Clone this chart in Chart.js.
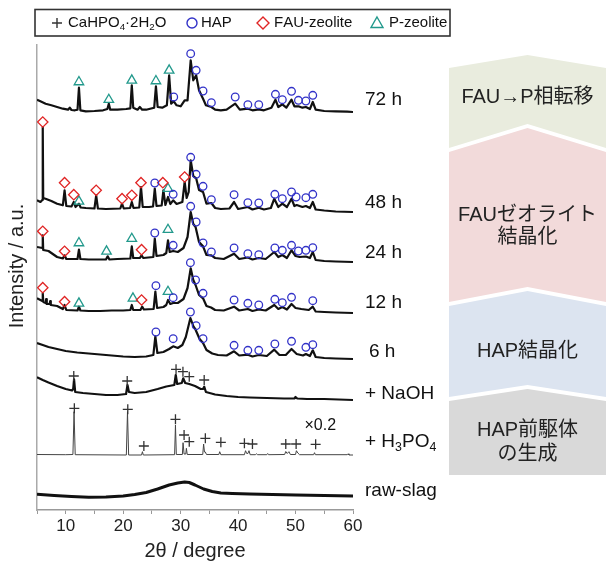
<!DOCTYPE html>
<html>
<head>
<meta charset="utf-8">
<script src="https://cdn.jsdelivr.net/npm/chart.js@4.4.1/dist/chart.umd.min.js"></script>
<style>
html, body { margin: 0; padding: 0; background: #fff; }
</style>
</head>
<body>
<canvas id="xrdChart" width="606" height="561"></canvas>
<script>
// 2θ ticks shown on the x axis
const xTickLabels = [10, 20, 30, 40, 50, 60];

// sample names, top to bottom ('_' = next char subscript)
const traceNames = ['72 h', '48 h', '24 h', '12 h', '6 h', '+ NaOH', '+ H_3PO_4', 'raw-slag'];
// vertical stacking offset of every pattern (a.u.)
const traceOffsets = [398, 298, 248, 197, 151, 110, 55, 14];

// patterns: [2θ, intensity above own baseline]
const trace72h = [[5,12.3],[5.5,11],[6.5,8.3],[7.5,6.7],[8.5,5],[9.5,3.3],[10.4,2.3],[10.7,4.3],[11,2],[11.6,1.7],[12.05,2.3],[12.3,24.3],[12.55,1.7],[13.5,0.7],[15,1],[16.5,1.7],[17.25,3],[17.5,8.3],[17.75,2.3],[19,2.3],[20.5,3],[21.25,3.7],[21.5,26.7],[21.75,4.3],[22.5,2.3],[22.9,5],[23.3,2.3],[24,2.3],[25.4,4.3],[25.7,25.7],[26,5],[26.8,4.3],[27.6,6.7],[28,36.7],[28.35,8.3],[28.8,10.7],[29.3,6.7],[30,5.7],[30.7,11.7],[31.2,11.7],[31.75,51.7],[32.2,31.7],[32.7,36.7],[33.2,21.7],[33.9,13.3],[34.4,6.7],[35.35,5],[36,2.3],[37,1.7],[38,2.3],[39.5,8.3],[40.3,2.3],[41.7,3.3],[42.5,1.7],[43.6,2.7],[44.5,1.7],[45.8,4.3],[46.5,12.3],[47,5],[47.7,7.7],[48.4,4.3],[49.3,12.3],[49.8,5.7],[50.5,5.7],[51.2,4.3],[51.8,5],[52.5,3],[53,10],[53.5,2.3],[55,1],[57,0.7],[59,0.3],[60,0]];
const trace48h = [[5,11.7],[5.6,10],[5.92,12],[6,84.7],[6.08,14],[6.6,13],[7.5,11],[8.5,8.3],[9.5,6.7],[9.8,21.7],[10.1,6],[11,5.5],[11.4,10],[11.7,5],[12.3,8.3],[12.6,4.5],[13.5,4],[15,3.5],[15.3,16.7],[15.6,3.5],[17,3],[19.5,3.5],[19.8,8.3],[20.1,3.5],[21.2,4],[21.5,10],[21.8,4],[22.8,4.5],[23.1,25],[23.4,5],[24.5,5],[25.2,5.5],[25.5,23.3],[25.8,6],[26.7,6.5],[27,21.7],[27.35,7],[27.8,15],[28.2,8],[28.7,11.7],[29.3,8],[30.3,10],[30.7,30],[31.05,14],[31.4,20],[31.75,51.7],[32.2,36],[32.7,33.7],[33.2,22],[33.9,20],[34.5,8.3],[35.35,9],[36,4],[37,3],[38.5,3.5],[39.3,10],[40,3],[41.7,5],[42.5,2.5],[43.6,4.3],[44.5,2.5],[45.7,4],[46.3,13.3],[47,5],[47.7,8.3],[48.5,5],[49.3,13.3],[49.8,6],[50.2,7],[51.2,5],[51.8,6],[52.5,4],[53,10],[53.5,2.5],[55,1.5],[57,0.5],[60,0]];
const trace24h = [[5,15],[5.92,14],[6,26.7],[6.08,12],[7,11],[8.5,5],[9.5,3.5],[9.8,6.7],[10.1,3],[12.05,3],[12.3,12.3],[12.55,3],[14,2.5],[17,2.5],[17.3,5.7],[17.6,2.5],[19,3],[21.25,3.5],[21.5,15.7],[21.75,4],[22.9,4],[23.2,6.7],[23.5,4],[25.25,5],[25.5,23.3],[25.8,6],[27,7],[27.5,9],[27.8,21.7],[28.1,10],[28.7,11],[29.5,10],[30.5,14],[31.2,25],[31.75,50],[32.2,38],[32.6,35],[33.2,20],[33.9,15.7],[34.5,7],[35.35,6.7],[36,4],[37.5,3],[39.3,8.3],[40.2,3],[41.7,4.5],[42.5,2.5],[43.6,4],[44.8,3],[46.3,10],[47,5],[47.7,7],[48.5,4],[49.3,11.7],[50,6],[50.7,5],[51.8,5.5],[52.5,4],[53,10],[53.5,2],[55,1],[57,0.5],[60,0]];
const trace12h = [[5,14.7],[5.92,12],[6,19.7],[6.1,11],[6.5,10],[6.6,14],[6.7,9],[7.2,9],[7.3,12],[7.4,8],[8.5,7],[9.5,4],[9.8,8],[10.1,3],[12.05,2.5],[12.3,6.3],[12.55,2.5],[14,2],[16,2],[18,2.5],[20,2.5],[21.25,3],[21.5,8],[21.75,3],[23,3],[23.3,6.3],[23.6,3.5],[25.3,4],[25.6,21.3],[25.9,5],[27,6],[27.5,8],[27.8,13],[28.2,9],[28.7,10],[29.5,10],[30.5,14],[31.2,25],[31.75,44.7],[32.2,33],[32.6,28],[33.2,18],[33.9,14.7],[34.5,7],[35.3,5.5],[36,3],[37.5,2.5],[39.3,6.3],[40.2,2.5],[41.7,4],[42.5,2],[43.6,3.5],[44.8,2.5],[46.3,8],[47,4],[47.7,6],[48.5,3.5],[49.3,9],[50,5],[51,4],[52.3,3],[53,6.3],[53.5,1.5],[55,1],[57,0.5],[60,0]];
const trace6h = [[5,16],[6,14],[7,12],[8.5,10],[10,8],[12,6.5],[14,5.5],[16,4.5],[18,3.5],[20,2.5],[22,2],[24,2.5],[25.25,4],[25.6,22.7],[25.95,6],[27,7],[28,10],[28.7,12.7],[29.5,11],[30.3,14],[30.9,22],[31.7,41],[32.2,33],[32.6,29.3],[33.3,20],[33.9,16],[34.5,9],[35.5,5.5],[36.5,4],[38,3.5],[39.3,7.7],[40.2,3.5],[41.7,4.3],[42.5,2.5],[43.6,4],[45,3],[46.3,9.3],[47.2,4],[48.3,4],[49.3,10],[50.2,5],[51.3,3.5],[51.8,5],[52.5,3],[53,8.7],[53.5,2],[55,1],[57,0.5],[60,0]];
const traceNaOH = [[5,22.7],[6,20],[7,17.5],[8.5,14],[10,11],[11.1,9.5],[11.3,11],[11.45,20.7],[11.65,8],[13,7],[15,6],[17,5],[19,5],[20.5,6],[20.75,15],[21,8],[22,7],[24,8],[26,11],[27.5,13.5],[28.9,15],[29.15,25],[29.4,16],[30.2,17],[30.45,21.7],[30.8,17],[31.5,16],[32.5,14],[33.5,11],[33.9,11],[34.1,13.3],[34.4,8],[36,5.5],[38,4],[40,3],[42,2.5],[45,2],[48,1.5],[49.8,1.5],[50,3],[50.3,1.5],[52,1],[55,1],[60,0]];
const traceH3PO4 = [[5,0.5],[10,0.3],[11.25,0.5],[11.45,43.3],[11.65,0.3],[20.55,0],[20.75,43.3],[20.95,0],[23.2,0],[23.35,3.3],[23.5,0],[28.95,0.3],[29.1,30],[29.25,0.5],[30.3,0.5],[30.42,12.3],[30.6,1],[30.9,1],[31,6.7],[31.15,0.5],[33.85,0.5],[34,11],[34.15,3],[34.3,3],[34.5,0.5],[36.65,0.5],[36.8,3.3],[37,0.3],[41.1,0.3],[41.3,4.3],[41.5,1.5],[41.7,1.5],[41.9,4.3],[42.1,0.3],[43,0.3],[43.2,1.2],[43.4,0.3],[45,0.3],[45.15,1.5],[45.3,0.3],[48.1,0.5],[48.3,3.5],[48.55,1.5],[48.85,3.3],[49.1,0.5],[50,0.5],[50.15,4.3],[50.4,2],[50.7,0.3],[53.15,0.3],[53.3,2.3],[53.45,0.3],[59,0.3],[59.15,1.2],[59.3,0],[60,0]];
const traceRawSlag = [[5,1.7],[8,0.5],[11,-0.5],[14,-1.3],[17,-1],[20,0],[22,1.5],[24,3.5],[26,7],[28,11],[29.5,13],[30.7,14],[31.5,13.5],[32.5,11],[34,7],[35.5,4.5],[37,3],[39,2.5],[42,2],[46,1.5],[50,1],[55,0.5],[60,0]];

// phase names for the legend
const phaseNames = ['CaHPO_4·2H_2O', 'HAP', 'FAU-zeolite', 'P-zeolite'];

// peak assignments: [pattern index, 2θ, height above own baseline]
const markCaHPO4 = [[5,11.4,24],[5,20.7,19],[5,29.2,30.7],[5,30.4,28.3],[5,31.5,23.3],[5,34.1,20],[6,11.5,46.7],[6,20.8,45.7],[6,23.6,9],[6,29.1,35.7],[6,30.6,20],[6,31.5,13.3],[6,34.3,16.7],[6,37,12.7],[6,41.1,11.7],[6,42.5,11],[6,48.3,11],[6,50.1,11],[6,53.5,10.7]];
const markHAP = [[0,28.8,15],[0,31.75,58.3],[0,32.7,41.7],[0,33.9,21],[0,35.35,9.3],[0,39.5,15],[0,41.7,7.3],[0,43.6,7.3],[0,46.5,17.7],[0,47.7,12.3],[0,49.3,20.7],[0,50.5,11.7],[0,51.8,11],[0,53,16.7],
  [1,25.5,29],[1,28.7,17.7],[1,31.75,54.7],[1,32.7,37.7],[1,33.9,25.7],[1,35.35,12.3],[1,39.3,17.3],[1,41.7,9.3],[1,43.6,9],[1,46.4,17.7],[1,47.7,13.3],[1,49.3,20],[1,50.1,15],[1,51.8,14.3],[1,53,17.7],
  [2,25.5,29],[2,28.7,16.7],[2,31.75,55.7],[2,32.7,40],[2,33.9,19],[2,35.35,10],[2,39.3,14],[2,41.7,8.3],[2,43.6,7.3],[2,46.4,14],[2,47.7,11.7],[2,49.3,16.7],[2,50.5,11],[2,51.8,11.7],[2,53,14.3],
  [3,25.7,27.3],[3,28.7,15.3],[3,31.7,50.3],[3,32.6,33],[3,33.9,19.7],[3,39.3,13],[3,41.7,9.7],[3,43.6,8],[3,46.4,13.7],[3,47.7,10.3],[3,49.3,15.7],[3,53,12.3],
  [4,25.7,27],[4,28.7,20.3],[4,31.7,47],[4,32.7,33.3],[4,33.9,20.3],[4,39.3,13.7],[4,41.7,8.7],[4,43.6,8.7],[4,46.4,15],[4,49.3,17.7],[4,51.8,11.7],[4,53,14.3]];
const markFAU = [[1,6,90],[1,9.8,29.3],[1,11.4,17.3],[1,15.3,21.7],[1,19.8,13.3],[1,21.5,16.7],[1,23.1,29.3],[1,26.9,29.3],[1,30.7,35],
  [2,6,30.7],[2,9.8,10.7],[2,23.2,12.3],[3,6,25.3],[3,9.8,11.3],[3,23.2,13]];
const markPzeo = [[0,12.3,30],[0,17.5,12.3],[0,21.5,31.7],[0,25.7,31],[0,28,41.7],[1,12.3,10.7],[1,27.8,23.3],
  [2,12.3,19],[2,17.1,10.7],[2,21.5,23.3],[2,27.8,32.3],[3,12.3,9.7],[3,21.7,14.7],[3,27.8,21.3]];

// reaction stages shown in the arrow panels (top to bottom)
const stageTexts = [['FAU→P相転移'], ['FAUゼオライト', '結晶化'], ['HAP結晶化'], ['HAP前駆体', 'の生成']];

const FONT = "'Liberation Sans', Arial, 'Noto Sans CJK JP', sans-serif";
const allTraces = [trace72h, trace48h, trace24h, trace12h, trace6h, traceNaOH, traceH3PO4, traceRawSlag];

// text with '_x' subscripts
function drawRich(ctx, text, x, y, size) {
    ctx.textBaseline = 'middle';
    ctx.textAlign = 'left';
    for (let i = 0; i < text.length; i++) {
        if (text[i] === '_') {
            const ch = text[++i];
            ctx.font = (size * 0.65) + 'px ' + FONT;
            ctx.fillText(ch, x, y + size * 0.3);
            x += ctx.measureText(ch).width;
        } else {
            ctx.font = size + 'px ' + FONT;
            ctx.fillText(text[i], x, y);
            x += ctx.measureText(text[i]).width;
        }
    }
}

function drawSymbol(ctx, kind, x, y) {
    ctx.save();
    ctx.lineWidth = 1.4;
    ctx.beginPath();
    if (kind === 'cross') {
        ctx.strokeStyle = '#333';
        ctx.moveTo(x - 5, y); ctx.lineTo(x + 5, y);
        ctx.moveTo(x, y - 5); ctx.lineTo(x, y + 5);
    } else if (kind === 'circle') {
        ctx.strokeStyle = '#3232c8';
        ctx.arc(x, y, 5, 0, Math.PI * 2);
    } else if (kind === 'diamond') {
        ctx.strokeStyle = '#e02424';
        ctx.moveTo(x, y - 6); ctx.lineTo(x + 6, y); ctx.lineTo(x, y + 6); ctx.lineTo(x - 6, y); ctx.closePath();
    } else {
        ctx.strokeStyle = '#22998c';
        ctx.moveTo(x, y - 6); ctx.lineTo(x + 6, y + 4.5); ctx.lineTo(x - 6, y + 4.5); ctx.closePath();
    }
    ctx.stroke();
    ctx.restore();
}

const decorPlugin = {
    id: 'decor',
    beforeDraw(chart) {
        const ctx = chart.ctx;
        // arrow-shaped stage panels
        const L = 449, R = 606, C = 527.5;
        const panels = [
            { top: [68, 55], bot: [148, 124], color: '#e9ecde' },
            { top: [152, 128], bot: [302, 287], color: '#f2dada' },
            { top: [306, 291], bot: [397, 385], color: '#dce4f0' },
            { top: [401, 389], bot: [475, 475], color: '#d9d9d9' }
        ];
        const textY = [[97], [215, 237], [351], [430, 454]];
        ctx.save();
        panels.forEach((p, i) => {
            ctx.fillStyle = p.color;
            ctx.beginPath();
            ctx.moveTo(L, p.top[0]);
            ctx.lineTo(C, p.top[1]);
            ctx.lineTo(R, p.top[0]);
            ctx.lineTo(R, p.bot[0]);
            ctx.lineTo(C, p.bot[1]);
            ctx.lineTo(L, p.bot[0]);
            ctx.closePath();
            ctx.fill();
            ctx.fillStyle = '#222';
            ctx.font = '20px ' + FONT;
            ctx.textAlign = 'center';
            ctx.textBaseline = 'middle';
            stageTexts[i].forEach((line, j) => ctx.fillText(line, C, textY[i][j]));
        });
        ctx.restore();
    },
    afterDraw(chart) {
        const ctx = chart.ctx;
        const yScale = chart.scales.y;
        const xScale = chart.scales.x;
        ctx.save();
        ctx.fillStyle = '#111';

        // sample labels to the right of each pattern
        const lift = [12, 9, 9, 10, 7, 6, 13, 5];
        traceNames.forEach((name, i) => {
            const y = yScale.getPixelForValue(traceOffsets[i]) - lift[i];
            const x = name === '6 h' ? 369 : 365;
            drawRich(ctx, name, x, y, 19);
        });

        // scale factor note on the H3PO4 pattern
        ctx.font = '16px ' + FONT;
        ctx.textAlign = 'center';
        ctx.textBaseline = 'middle';
        ctx.fillText('×0.2', xScale.getPixelForValue(54.3), yScale.getPixelForValue(traceOffsets[6]) - 29);

        // y axis title
        ctx.save();
        ctx.translate(17, 266);
        ctx.rotate(-Math.PI / 2);
        ctx.font = '20px ' + FONT;
        ctx.fillStyle = '#222';
        ctx.fillText('Intensity / a.u.', 0, 0);
        ctx.restore();

        // legend box
        ctx.strokeStyle = '#333';
        ctx.lineWidth = 1.6;
        ctx.strokeRect(35, 9.5, 415, 26.5);
        const kinds = ['cross', 'circle', 'diamond', 'triangle'];
        const symX = [57, 192, 263, 377];
        const txtX = [68, 201, 274, 389];
        ctx.fillStyle = '#111';
        phaseNames.forEach((name, i) => {
            drawSymbol(ctx, kinds[i], symX[i], 23);
            drawRich(ctx, name, txtX[i], 23, 15);
        });
        ctx.restore();
    }
};

function markerSet(list) {
    return list.map(([idx, t, h]) => ({ x: t, y: traceOffsets[idx] + h }));
}

const datasets = allTraces.map((trace, i) => ({
    label: traceNames[i],
    data: trace.map(([t, h]) => ({ x: t, y: h + traceOffsets[i] })),
    borderColor: i === 6 ? '#444' : '#111',
    borderWidth: i === 6 ? 1 : (i === 7 ? 3 : 2.2),
    borderJoinStyle: 'round',
    pointRadius: 0,
    fill: false,
    order: 2
}));

const markerStyles = [
    { data: markCaHPO4, style: 'cross', color: '#333', r: 5 },
    { data: markHAP, style: 'circle', color: '#3232c8', r: 3.8 },
    { data: markFAU, style: 'rectRot', color: '#e02424', r: 5.2 },
    { data: markPzeo, style: 'triangle', color: '#22998c', r: 5.5 }
];
markerStyles.forEach((m, i) => {
    datasets.push({
        label: phaseNames[i],
        data: markerSet(m.data),
        showLine: false,
        pointStyle: m.style,
        pointRadius: m.r,
        pointBorderColor: m.color,
        pointBackgroundColor: 'rgba(0,0,0,0)',
        pointBorderWidth: 1.3,
        order: 1
    });
});

new Chart(document.getElementById('xrdChart'), {
    type: 'line',
    data: { datasets: datasets },
    options: {
        responsive: false,
        animation: false,
        devicePixelRatio: 1,
        layout: { padding: { left: 37, right: 253, top: 45, bottom: 0 } },
        plugins: { legend: { display: false }, tooltip: { enabled: false } },
        scales: {
            x: {
                type: 'linear',
                min: 5,
                max: 60,
                afterBuildTicks: s => { s.ticks = []; for (let v = 5; v <= 60; v += 5) s.ticks.push({ value: v }); },
                afterFit: s => { s.height = 51; },
                ticks: {
                    autoSkip: false,
                    maxRotation: 0,
                    padding: 2,
                    color: '#222',
                    font: { family: FONT, size: 17 },
                    callback: v => xTickLabels.includes(v) ? String(v) : ''
                },
                grid: { drawOnChartArea: false, drawTicks: true, tickLength: 4, tickColor: '#999' },
                border: { color: '#999', width: 1.5 },
                title: { display: true, text: '2θ / degree', color: '#222', font: { family: FONT, size: 20 }, padding: { top: 0, bottom: -2 } }
            },
            y: {
                min: 0,
                max: 465,
                afterFit: s => { s.width = 0; },
                ticks: { display: false },
                grid: { display: false, drawTicks: false },
                border: { color: '#aaa', width: 1.5 }
            }
        }
    },
    plugins: [decorPlugin]
});
</script>
</body>
</html>
